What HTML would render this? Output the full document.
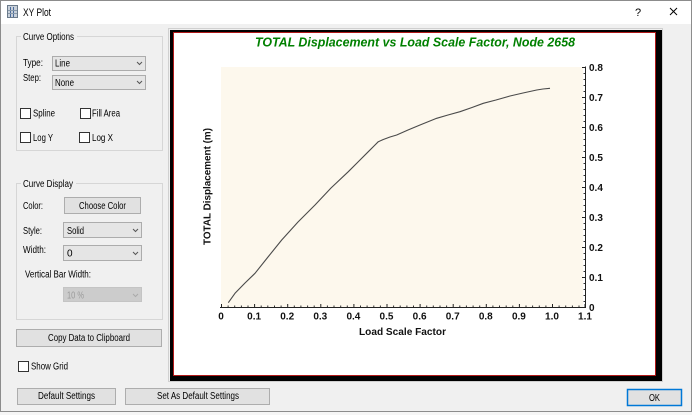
<!DOCTYPE html>
<html><head><meta charset="utf-8"><style>
html,body{margin:0;padding:0;background:#f0f0f0;}
svg{display:block;}
text{font-family:"Liberation Sans",Arial,sans-serif;}
</style></head><body>
<svg width="692" height="415" viewBox="0 0 692 415" xmlns="http://www.w3.org/2000/svg">
<!-- dialog background -->
<rect x="0" y="0" width="692" height="415" fill="#f0f0f0"/>
<!-- title bar -->
<rect x="0" y="0" width="692" height="24" fill="#ffffff"/>
<rect x="0.5" y="0.5" width="691" height="411" fill="none" stroke="#8c8c8c"/>
<rect x="0" y="412" width="692" height="3" fill="#f6f6f6"/>
<line x1="0" y1="411.5" x2="692" y2="411.5" stroke="#8c8c8c"/>
<!-- icon -->
<rect x="7.5" y="5.5" width="10" height="12" fill="#c8d0da" stroke="#6a7a8a"/>
<line x1="10.5" y1="7" x2="10.5" y2="17" stroke="#4a6a9a"/>
<line x1="13.5" y1="7" x2="13.5" y2="17" stroke="#4a6a9a"/>
<line x1="8" y1="10.5" x2="17" y2="10.5" stroke="#8899aa"/>
<line x1="8" y1="13.5" x2="17" y2="13.5" stroke="#8899aa"/>
<text x="23" y="16" font-size="11" textLength="28" lengthAdjust="spacingAndGlyphs" fill="#000">XY Plot</text>
<text x="635" y="16" font-size="11" fill="#000">?</text>
<line x1="670" y1="8" x2="677" y2="15" stroke="#000" stroke-width="1"/>
<line x1="677" y1="8" x2="670" y2="15" stroke="#000" stroke-width="1"/>

<!-- Curve Options group -->
<rect x="16.5" y="36.5" width="146" height="114" fill="none" stroke="#d6d6d6"/>
<rect x="21" y="31" width="56" height="10" fill="#f0f0f0"/>
<text x="23" y="40" font-size="10" textLength="51" lengthAdjust="spacingAndGlyphs">Curve Options</text>
<text x="23" y="66" font-size="10" textLength="20" lengthAdjust="spacingAndGlyphs">Type:</text>
<rect x="52.5" y="56.5" width="93" height="14" fill="#e5e5e5" stroke="#acacac"/>
<text x="55" y="66.5" font-size="10" textLength="15" lengthAdjust="spacingAndGlyphs">Line</text>
<polyline points="137,62 139.5,64.5 142,62" fill="none" stroke="#555"/>
<text x="23" y="81" font-size="10" textLength="18" lengthAdjust="spacingAndGlyphs">Step:</text>
<rect x="52.5" y="75.5" width="93" height="14" fill="#e5e5e5" stroke="#acacac"/>
<text x="55" y="86" font-size="10" textLength="19" lengthAdjust="spacingAndGlyphs">None</text>
<polyline points="137,81 139.5,83.5 142,81" fill="none" stroke="#555"/>
<rect x="20.5" y="108.5" width="10" height="10" fill="#fff" stroke="#333"/>
<text x="33" y="116.5" font-size="10" textLength="22" lengthAdjust="spacingAndGlyphs">Spline</text>
<rect x="80.5" y="108.5" width="10" height="10" fill="#fff" stroke="#333"/>
<text x="92" y="116.5" font-size="10" textLength="28" lengthAdjust="spacingAndGlyphs">Fill Area</text>
<rect x="20.5" y="132.5" width="10" height="10" fill="#fff" stroke="#333"/>
<text x="33" y="141" font-size="10" textLength="20" lengthAdjust="spacingAndGlyphs">Log Y</text>
<rect x="79.5" y="132.5" width="10" height="10" fill="#fff" stroke="#333"/>
<text x="92" y="141" font-size="10" textLength="21" lengthAdjust="spacingAndGlyphs">Log X</text>

<!-- Curve Display group -->
<rect x="16.5" y="183.5" width="146" height="136" fill="none" stroke="#d6d6d6"/>
<rect x="21" y="178" width="55" height="10" fill="#f0f0f0"/>
<text x="23" y="187" font-size="10" textLength="50" lengthAdjust="spacingAndGlyphs">Curve Display</text>
<text x="23" y="209" font-size="10" textLength="20" lengthAdjust="spacingAndGlyphs">Color:</text>
<rect x="64.5" y="197.5" width="76" height="16" fill="#e1e1e1" stroke="#adadad"/>
<text x="79" y="209" font-size="10" textLength="47" lengthAdjust="spacingAndGlyphs">Choose Color</text>
<text x="23" y="234" font-size="10" textLength="19" lengthAdjust="spacingAndGlyphs">Style:</text>
<rect x="63.5" y="222.5" width="78" height="15" fill="#e5e5e5" stroke="#acacac"/>
<text x="67" y="234" font-size="10" textLength="17" lengthAdjust="spacingAndGlyphs">Solid</text>
<polyline points="133,229 135.5,231.5 138,229" fill="none" stroke="#555"/>
<text x="23" y="253" font-size="10" textLength="23" lengthAdjust="spacingAndGlyphs">Width:</text>
<rect x="63.5" y="245.5" width="78" height="15" fill="#e5e5e5" stroke="#acacac"/>
<text x="67" y="256.5" font-size="10">0</text>
<polyline points="133,252 135.5,254.5 138,252" fill="none" stroke="#555"/>
<text x="25" y="277.5" font-size="10" textLength="66" lengthAdjust="spacingAndGlyphs">Vertical Bar Width:</text>
<rect x="63.5" y="287.5" width="78" height="14" fill="#cccccc" stroke="#c4c4c4"/>
<text x="67" y="298.5" font-size="10" textLength="17" lengthAdjust="spacingAndGlyphs" fill="#9a9a9a">10 %</text>
<polyline points="133,294 135.5,296.5 138,294" fill="none" stroke="#aaa"/>

<!-- Copy button -->
<rect x="16.5" y="329.5" width="145" height="17" fill="#e1e1e1" stroke="#adadad"/>
<text x="48" y="341" font-size="10" textLength="82" lengthAdjust="spacingAndGlyphs">Copy Data to Clipboard</text>
<rect x="18.5" y="361.5" width="10" height="10" fill="#fff" stroke="#333"/>
<text x="31" y="369.5" font-size="10" textLength="37" lengthAdjust="spacingAndGlyphs">Show Grid</text>

<!-- Bottom buttons -->
<rect x="17.5" y="388.5" width="98" height="16" fill="#e1e1e1" stroke="#adadad"/>
<text x="38" y="399" font-size="10" textLength="57" lengthAdjust="spacingAndGlyphs">Default Settings</text>
<rect x="125.5" y="388.5" width="144" height="16" fill="#e1e1e1" stroke="#adadad"/>
<text x="157" y="399" font-size="10" textLength="82" lengthAdjust="spacingAndGlyphs">Set As Default Settings</text>
<rect x="627.5" y="389.5" width="54" height="16" fill="#e1e1e1" stroke="#0078d7" stroke-width="1.5"/>
<text x="649" y="401" font-size="10" textLength="11" lengthAdjust="spacingAndGlyphs">OK</text>

<!-- Chart panel -->
<rect x="168.5" y="28.5" width="494" height="353" fill="none" stroke="#d0d0d0"/>
<rect x="170" y="30" width="492" height="351" fill="#000"/>
<rect x="173" y="32" width="483" height="344" fill="#ffffff"/>
<rect x="173.5" y="32.5" width="482" height="343" fill="none" stroke="#b01818"/>
<text x="255" y="46.5" font-size="12.5" font-weight="bold" font-style="italic" fill="#008000" textLength="320" lengthAdjust="spacingAndGlyphs">TOTAL Displacement  vs Load Scale Factor, Node 2658</text>

<!-- plot area -->
<rect x="221" y="67" width="362" height="240" fill="#fdf8ed"/>

<!-- x axis -->
<line x1="220" y1="307.5" x2="585.5" y2="307.5" stroke="#222"/>
<g stroke="#222">
<line x1="221.5" y1="304" x2="221.5" y2="308"/>
<line x1="254.6" y1="304" x2="254.6" y2="308"/>
<line x1="287.7" y1="304" x2="287.7" y2="308"/>
<line x1="320.8" y1="304" x2="320.8" y2="308"/>
<line x1="353.9" y1="304" x2="353.9" y2="308"/>
<line x1="387" y1="304" x2="387" y2="308"/>
<line x1="420.1" y1="304" x2="420.1" y2="308"/>
<line x1="453.2" y1="304" x2="453.2" y2="308"/>
<line x1="486.3" y1="304" x2="486.3" y2="308"/>
<line x1="519.4" y1="304" x2="519.4" y2="308"/>
<line x1="552.5" y1="304" x2="552.5" y2="308"/>
<line x1="585" y1="304" x2="585" y2="308"/>
</g>
<g stroke="#333" id="xminor">
<line x1="228.1" y1="305.5" x2="228.1" y2="307"/><line x1="234.7" y1="305.5" x2="234.7" y2="307"/><line x1="241.4" y1="305.5" x2="241.4" y2="307"/><line x1="248" y1="305.5" x2="248" y2="307"/>
<line x1="261.2" y1="305.5" x2="261.2" y2="307"/><line x1="267.8" y1="305.5" x2="267.8" y2="307"/><line x1="274.5" y1="305.5" x2="274.5" y2="307"/><line x1="281.1" y1="305.5" x2="281.1" y2="307"/>
<line x1="294.3" y1="305.5" x2="294.3" y2="307"/><line x1="300.9" y1="305.5" x2="300.9" y2="307"/><line x1="307.6" y1="305.5" x2="307.6" y2="307"/><line x1="314.2" y1="305.5" x2="314.2" y2="307"/>
<line x1="327.4" y1="305.5" x2="327.4" y2="307"/><line x1="334" y1="305.5" x2="334" y2="307"/><line x1="340.7" y1="305.5" x2="340.7" y2="307"/><line x1="347.3" y1="305.5" x2="347.3" y2="307"/>
<line x1="360.5" y1="305.5" x2="360.5" y2="307"/><line x1="367.1" y1="305.5" x2="367.1" y2="307"/><line x1="373.8" y1="305.5" x2="373.8" y2="307"/><line x1="380.4" y1="305.5" x2="380.4" y2="307"/>
<line x1="393.6" y1="305.5" x2="393.6" y2="307"/><line x1="400.2" y1="305.5" x2="400.2" y2="307"/><line x1="406.9" y1="305.5" x2="406.9" y2="307"/><line x1="413.5" y1="305.5" x2="413.5" y2="307"/>
<line x1="426.7" y1="305.5" x2="426.7" y2="307"/><line x1="433.3" y1="305.5" x2="433.3" y2="307"/><line x1="440" y1="305.5" x2="440" y2="307"/><line x1="446.6" y1="305.5" x2="446.6" y2="307"/>
<line x1="459.8" y1="305.5" x2="459.8" y2="307"/><line x1="466.4" y1="305.5" x2="466.4" y2="307"/><line x1="473.1" y1="305.5" x2="473.1" y2="307"/><line x1="479.7" y1="305.5" x2="479.7" y2="307"/>
<line x1="492.9" y1="305.5" x2="492.9" y2="307"/><line x1="499.5" y1="305.5" x2="499.5" y2="307"/><line x1="506.2" y1="305.5" x2="506.2" y2="307"/><line x1="512.8" y1="305.5" x2="512.8" y2="307"/>
<line x1="526" y1="305.5" x2="526" y2="307"/><line x1="532.6" y1="305.5" x2="532.6" y2="307"/><line x1="539.3" y1="305.5" x2="539.3" y2="307"/><line x1="545.9" y1="305.5" x2="545.9" y2="307"/>
<line x1="559.1" y1="305.5" x2="559.1" y2="307"/><line x1="565.7" y1="305.5" x2="565.7" y2="307"/><line x1="572.4" y1="305.5" x2="572.4" y2="307"/><line x1="579" y1="305.5" x2="579" y2="307"/>
</g>
<g font-size="10" font-weight="bold" text-anchor="middle" fill="#111">
<text x="221" y="319.5">0</text>
<text x="254.1" y="319.5">0.1</text>
<text x="287.2" y="319.5">0.2</text>
<text x="320.3" y="319.5">0.3</text>
<text x="353.4" y="319.5">0.4</text>
<text x="386.5" y="319.5">0.5</text>
<text x="419.6" y="319.5">0.6</text>
<text x="452.7" y="319.5">0.7</text>
<text x="485.8" y="319.5">0.8</text>
<text x="518.9" y="319.5">0.9</text>
<text x="552" y="319.5">1.0</text>
<text x="585" y="319.5">1.1</text>
</g>
<text x="359" y="335" font-size="10" font-weight="bold" fill="#111" textLength="87" lengthAdjust="spacingAndGlyphs">Load Scale Factor</text>

<!-- y axis -->
<line x1="585.5" y1="66.5" x2="585.5" y2="308" stroke="#222"/>
<g stroke="#222">
<line x1="582" y1="67.5" x2="586" y2="67.5"/>
<line x1="582" y1="97.5" x2="586" y2="97.5"/>
<line x1="582" y1="127.5" x2="586" y2="127.5"/>
<line x1="582" y1="157.5" x2="586" y2="157.5"/>
<line x1="582" y1="187.5" x2="586" y2="187.5"/>
<line x1="582" y1="217.5" x2="586" y2="217.5"/>
<line x1="582" y1="247.5" x2="586" y2="247.5"/>
<line x1="582" y1="277.5" x2="586" y2="277.5"/>
</g>
<g stroke="#333">
<line x1="583.5" y1="73.5" x2="585" y2="73.5"/><line x1="583.5" y1="79.5" x2="585" y2="79.5"/><line x1="583.5" y1="85.5" x2="585" y2="85.5"/><line x1="583.5" y1="91.5" x2="585" y2="91.5"/>
<line x1="583.5" y1="103.5" x2="585" y2="103.5"/><line x1="583.5" y1="109.5" x2="585" y2="109.5"/><line x1="583.5" y1="115.5" x2="585" y2="115.5"/><line x1="583.5" y1="121.5" x2="585" y2="121.5"/>
<line x1="583.5" y1="133.5" x2="585" y2="133.5"/><line x1="583.5" y1="139.5" x2="585" y2="139.5"/><line x1="583.5" y1="145.5" x2="585" y2="145.5"/><line x1="583.5" y1="151.5" x2="585" y2="151.5"/>
<line x1="583.5" y1="163.5" x2="585" y2="163.5"/><line x1="583.5" y1="169.5" x2="585" y2="169.5"/><line x1="583.5" y1="175.5" x2="585" y2="175.5"/><line x1="583.5" y1="181.5" x2="585" y2="181.5"/>
<line x1="583.5" y1="193.5" x2="585" y2="193.5"/><line x1="583.5" y1="199.5" x2="585" y2="199.5"/><line x1="583.5" y1="205.5" x2="585" y2="205.5"/><line x1="583.5" y1="211.5" x2="585" y2="211.5"/>
<line x1="583.5" y1="223.5" x2="585" y2="223.5"/><line x1="583.5" y1="229.5" x2="585" y2="229.5"/><line x1="583.5" y1="235.5" x2="585" y2="235.5"/><line x1="583.5" y1="241.5" x2="585" y2="241.5"/>
<line x1="583.5" y1="253.5" x2="585" y2="253.5"/><line x1="583.5" y1="259.5" x2="585" y2="259.5"/><line x1="583.5" y1="265.5" x2="585" y2="265.5"/><line x1="583.5" y1="271.5" x2="585" y2="271.5"/>
<line x1="583.5" y1="283.5" x2="585" y2="283.5"/><line x1="583.5" y1="289.5" x2="585" y2="289.5"/><line x1="583.5" y1="295.5" x2="585" y2="295.5"/><line x1="583.5" y1="301.5" x2="585" y2="301.5"/>
</g>
<g font-size="10" font-weight="bold" fill="#111">
<text x="589" y="71">0.8</text>
<text x="589" y="101">0.7</text>
<text x="589" y="131">0.6</text>
<text x="589" y="161">0.5</text>
<text x="589" y="191">0.4</text>
<text x="589" y="221">0.3</text>
<text x="589" y="251">0.2</text>
<text x="589" y="281">0.1</text>
<text x="589" y="311">0</text>
</g>
<text transform="translate(210.5,186.5) rotate(-90)" x="-58.5" y="0" font-size="10" font-weight="bold" fill="#111" textLength="117" lengthAdjust="spacingAndGlyphs">TOTAL Displacement (m)</text>

<!-- curve -->
<polyline fill="none" stroke="#4a4a4a" stroke-width="1.1" stroke-linejoin="round"
points="228.3,302.7 235,293.3 245,283 255,273.3 268,257 281.7,240 298,222 315,205 331,188 348.3,171.7 358,162 368.3,151.7 374,146 378.3,141.7 383.3,139.5 390,137 396.7,135 408,130 420,125 436.7,118.3 448,115 460,111.7 472,107.5 483.3,103.3 496,100 510,96 523,93 536.7,90 543,89 550,88.3"/>
</svg>
</body></html>
